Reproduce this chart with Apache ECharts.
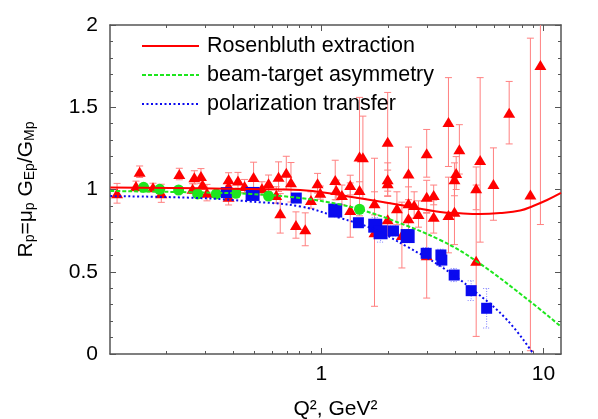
<!DOCTYPE html>
<html>
<head>
<meta charset="utf-8">
<script src="https://cdn.jsdelivr.net/npm/echarts@6/dist/echarts.min.js"></script>
<style>
  html, body { margin: 0; padding: 0; background: #fff; }
  #chart { width: 598px; height: 419px; }
</style>
</head>
<body>
<div id="chart"></div>
<script>
// curves: [Q^2, R]
const rosenbluthCurve = [
  [0.1124, 1.012], [0.2856, 1.007], [0.4792, 1.003], [0.8046, 0.997], [1.217, 0.967],
  [1.351, 0.956], [2.266, 0.906], [3.428, 0.863], [4.22, 0.855], [5.19, 0.851],
  [6.387, 0.857], [7.86, 0.872], [8.99, 0.900], [10.39, 0.936], [12.0, 0.979]
]
const beamTargetCurve = [
  [0.1124, 0.991], [0.2856, 0.982], [0.4792, 0.973], [0.8046, 0.948], [1.217, 0.909],
  [1.497, 0.878], [2.043, 0.818], [3.428, 0.693], [5.03, 0.561], [8.74, 0.318], [12.0, 0.166]
]
const polTransferCurve = [
  [0.1124, 0.960], [0.2856, 0.948], [0.4792, 0.927], [0.8046, 0.897], [1.217, 0.827],
  [1.714, 0.760], [2.437, 0.652], [3.428, 0.535], [4.829, 0.389], [6.866, 0.207], [9.02, 0.0]
]

// Rosenbluth points: [Q^2, R, error]
const rosenbluthPoints = [
  [0.1205, 0.977, 0.06], [0.1466, 1.021, 0.03], [0.1523, 1.108, 0.035], [0.1749, 1.013, 0.025],
  [0.1906, 0.977, 0.055], [0.2297, 1.094, 0.035], [0.2636, 1.005, 0.03], [0.2684, 1.074, 0.04],
  [0.2875, 1.082, 0.045], [0.2924, 1.031, 0.03], [0.3060, 0.981, 0.05], [0.3828, 1.062, 0.04],
  [0.3828, 1.021, 0.03], [0.3828, 0.956, 0.05], [0.4219, 1.054, 0.05], [0.4518, 1.021, 0.04],
  [0.4960, 1.076, 0.09], [0.5410, 1.007, 0.04], [0.5793, 1.038, 0.05], [0.6273, 0.967, 0.05],
  [0.6425, 1.078, 0.09], [0.6539, 0.855, 0.12], [0.6961, 1.102, 0.1], [0.7307, 1.044, 0.12],
  [0.7695, 0.784, 0.08], [0.8472, 0.758, 0.1], [0.8989, 0.936, 0.05], [0.9625, 1.038, 0.06],
  [0.9900, 0.981, 0.04], [1.156, 1.058, 0.12], [1.168, 0.997, 0.06], [1.239, 0.967, 0.06],
  [1.351, 1.027, 0.06], [1.351, 0.875, 0.165], [1.487, 1.2, 0.36], [1.540, 1.196, 0.25],
  [1.487, 0.997, 0.05], [1.737, 0.916, 0.07], [1.737, 0.74, 0.45], [1.991, 1.29, 0.3],
  [1.991, 1.062, 0.1], [1.991, 1.038, 0.08], [1.991, 0.819, 0.1], [2.191, 0.886, 0.1],
  [2.307, 0.723, 0.2], [2.470, 1.098, 0.16], [2.470, 0.916, 0.1], [2.470, 0.825, 0.08],
  [2.620, 0.906, 0.08], [2.740, 0.851, 0.08], [2.983, 1.22, 0.145], [2.983, 0.956, 0.1],
  [2.983, 0.6, 0.26], [3.207, 0.967, 0.06], [3.207, 0.835, 0.1], [3.738, 1.41, 0.27],
  [3.738, 0.845, 0.23], [3.978, 1.062, 0.1], [4.049, 1.1, 0.1], [3.978, 0.865, 0.2],
  [4.185, 1.244, 0.15], [4.982, 1.007, 0.13], [4.982, 0.567, 0.46], [5.191, 1.18, 0.5],
  [5.958, 1.033, 0.22], [7.013, 1.467, 0.19], [8.739, 0.97, 0.95], [9.694, 1.757, 0.97]
]

// beam-target asymmetry points: [Q^2, R]
const beamTargetPoints = [
  [0.1587, 1.013], [0.1874, 1.001], [0.2281, 0.997], [0.2777, 0.973],
  [0.3371, 0.973], [0.4133, 0.977], [0.5793, 0.960], [1.487, 0.880]
]

// polarization transfer points: [Q^2, R, error]
const polTransferPoints = [
  [0.3738, 0.981, 0.02], [0.772, 0.948, 0.02], [1.47, 0.798, 0.025], [2.114, 0.748, 0.03],
  [2.967, 0.612, 0.035], [3.456, 0.602, 0.035], [3.49, 0.571, 0.04], [3.966, 0.48, 0.04],
  [4.73, 0.385, 0.06], [5.553, 0.278, 0.12]
]
const polTransferPointsLarge = [
  [0.4909, 0.973, 0.03], [1.156, 0.872, 0.03], [1.75, 0.78, 0.05], [1.85, 0.74, 0.06], [2.449, 0.717, 0.04]
]

const xMajorTicks = [1, 10]
const xMinorTicks = [0.2, 0.3, 0.4, 0.5, 0.6, 0.7, 0.8, 0.9, 2, 3, 4, 5, 6, 7, 8, 9]

const FONT = 'Liberation Sans, Arial, Helvetica, sans-serif'
const FRAME = '#555'

function errorBars(color, dash) {
  return function (params, api) {
    const q = api.value(0)
    const r = api.value(1)
    const e = api.value(2)
    const top = api.coord([q, r + e])
    const bot = api.coord([q, r - e])
    const w = 3.5
    const style = { stroke: color, lineWidth: 1, lineDash: dash }
    return {
      type: 'group',
      children: [
        { type: 'line', shape: { x1: top[0], y1: top[1], x2: bot[0], y2: bot[1] }, style },
        { type: 'line', shape: { x1: top[0] - w, y1: top[1], x2: top[0] + w, y2: top[1] }, style },
        { type: 'line', shape: { x1: bot[0] - w, y1: bot[1], x2: bot[0] + w, y2: bot[1] }, style }
      ]
    }
  }
}

function xAxisFor(position, ticks, len, labels, line) {
  return {
    type: 'log',
    logBase: 10,
    min: 0.112,
    max: 12,
    position: position,
    splitLine: { show: false },
    axisLine: { show: line, lineStyle: { color: FRAME, width: 1.5 } },
    axisTick: { show: true, inside: true, length: len, customValues: ticks, lineStyle: { color: FRAME } },
    axisLabel: labels ? {
      show: true, customValues: xMajorTicks, formatter: (v) => String(Math.round(v)),
      fontSize: 21, color: '#000', fontFamily: FONT, margin: 10
    } : { show: false }
  }
}

function yAxisFor(position, labels) {
  return {
    type: 'value',
    min: 0,
    max: 2,
    interval: 0.5,
    position: position,
    splitLine: { show: false },
    axisLine: { show: true, lineStyle: { color: FRAME, width: 1.5 } },
    axisTick: { show: true, inside: true, length: 6, lineStyle: { color: FRAME } },
    minorTick: { show: true, splitNumber: 5, length: 3, lineStyle: { color: FRAME } },
    axisLabel: labels ? { show: true, fontSize: 21, color: '#000', fontFamily: FONT, margin: 12 } : { show: false }
  }
}

const chart = echarts.init(document.getElementById('chart'), null, { renderer: 'canvas' })

const xMain = xAxisFor('bottom', xMajorTicks, 6, true, true)
xMain.name = 'Q², GeV²'
xMain.nameLocation = 'middle'
xMain.nameGap = 45
xMain.nameMoveOverlap = false
xMain.nameTextStyle = { fontSize: 21, lineHeight: 21, fontFamily: FONT, color: '#000' }

const yMain = yAxisFor('left', true)
yMain.name = '{a|R}{b|p}{a|=μ}{b|p}{a| G}{b|Ep}{a|/G}{b|Mp}'
yMain.nameLocation = 'middle'
yMain.nameRotate = 90
yMain.nameGap = 73
yMain.nameTextStyle = {
  fontFamily: FONT,
  color: '#000',
  rich: {
    a: { fontSize: 21, lineHeight: 21, verticalAlign: 'top', fontFamily: FONT, color: '#000' },
    b: { fontSize: 14, lineHeight: 14, padding: [12, 0, 0, 0], verticalAlign: 'bottom', fontFamily: FONT, color: '#000' }
  }
}

chart.setOption({
  animation: false,
  backgroundColor: '#fff',
  grid: { left: 110, right: 37, top: 25, bottom: 65, outerBoundsMode: 'none', containLabel: false },
  legend: {
    orient: 'vertical',
    left: 136,
    top: 30,
    itemWidth: 57,
    itemHeight: 14,
    itemGap: 7,
    itemStyle: { opacity: 0 },
    textStyle: { fontSize: 21.5, color: '#000', fontFamily: FONT, padding: [0, 0, 0, 3] },
    data: ['Rosenbluth extraction', 'beam-target asymmetry', 'polarization transfer']
  },
  xAxis: [
    xMain,
    xAxisFor('bottom', xMinorTicks, 3, false, false),
    xAxisFor('top', xMajorTicks, 6, false, true),
    xAxisFor('top', xMinorTicks, 3, false, false)
  ],
  yAxis: [yMain, yAxisFor('right', false)],
  series: [
    {
      name: 'Rosenbluth extraction', type: 'line', data: rosenbluthCurve, smooth: 0.4,
      symbol: 'none', clip: true, lineStyle: { color: '#ff0000', width: 2 }, itemStyle: { color: '#ff0000' }
    },
    {
      name: 'beam-target asymmetry', type: 'line', data: beamTargetCurve, smooth: 0.4,
      symbol: 'none', clip: true, lineStyle: { color: '#1ee61e', width: 2, type: [4, 2] }, itemStyle: { color: '#1ee61e' }
    },
    {
      name: 'polarization transfer', type: 'line', data: polTransferCurve, smooth: 0.4,
      symbol: 'none', clip: true, lineStyle: { color: '#0a0aef', width: 2, type: [2, 2.5] }, itemStyle: { color: '#0a0aef' }
    },
    {
      type: 'custom', data: rosenbluthPoints, clip: true, silent: true,
      encode: { x: 0, y: 1 }, renderItem: errorBars('#ff8080', null)
    },
    {
      type: 'scatter', data: rosenbluthPoints, symbol: 'triangle', symbolSize: [12, 10],
      itemStyle: { color: '#ff0000', opacity: 1 }
    },
    {
      type: 'scatter', data: beamTargetPoints, symbol: 'circle', symbolSize: 11,
      itemStyle: { color: '#1ee61e', opacity: 1 }
    },
    {
      type: 'custom', data: polTransferPoints.concat(polTransferPointsLarge), clip: true, silent: true,
      encode: { x: 0, y: 1 }, renderItem: errorBars('#8080ff', [1, 1.5])
    },
    {
      type: 'scatter', data: polTransferPoints, symbol: 'rect', symbolSize: 11,
      itemStyle: { color: '#0a0aef', opacity: 1 }
    },
    {
      type: 'scatter', data: polTransferPointsLarge, symbol: 'rect', symbolSize: 14,
      itemStyle: { color: '#0a0aef', opacity: 1 }
    }
  ]
})
</script>
</body>
</html>
